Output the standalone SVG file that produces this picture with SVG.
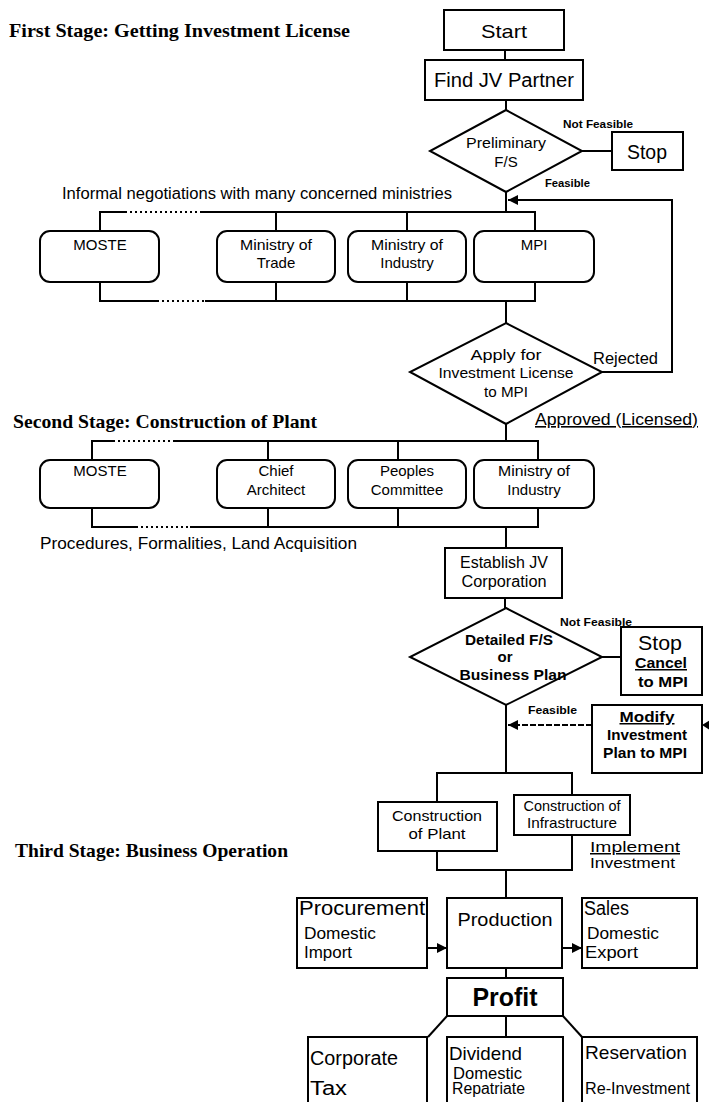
<svg xmlns="http://www.w3.org/2000/svg" width="709" height="1102" viewBox="0 0 709 1102">
<defs>
<style>
.box{fill:#fff;stroke:#000;stroke-width:2}
.ln{fill:none;stroke:#000;stroke-width:2}
.dot{fill:none;stroke:#000;stroke-width:2;stroke-dasharray:2 3}
.dash{fill:none;stroke:#000;stroke-width:2;stroke-dasharray:6 2}
text{font-family:"Liberation Sans",Arial,sans-serif;fill:#000}
.c{text-anchor:middle}
.b{font-weight:bold}
.u{text-decoration:underline}
.title{font-family:"Liberation Serif","Times New Roman",serif;font-weight:bold;font-size:19px}
.f11{font-size:11px}.f15{font-size:15px}.f16{font-size:16px}.f17{font-size:17px}.f19{font-size:19px}.f20{font-size:20px}.f21{font-size:21px}.f25{font-size:25px}
</style>
<marker id="ah" viewBox="0 0 10 10" refX="10" refY="5" markerWidth="5" markerHeight="5" orient="auto"><path d="M0,0 L10,5 L0,10 z" fill="#000"/></marker>
</defs>
<rect width="709" height="1102" fill="#fff"/>

<g id="titles">
<text class="title" x="9" y="37" textLength="341" lengthAdjust="spacingAndGlyphs">First Stage: Getting Investment License</text>
<text class="title" x="13" y="428" textLength="304" lengthAdjust="spacingAndGlyphs">Second Stage: Construction of Plant</text>
<text class="title" x="15" y="857" textLength="273" lengthAdjust="spacingAndGlyphs">Third Stage: Business Operation</text>
</g>

<g id="connectors">
<line class="ln" x1="505" y1="50" x2="505" y2="60"/>
<line class="ln" x1="506" y1="100" x2="506" y2="110"/>
<line class="ln" x1="582" y1="151" x2="612" y2="151"/>
<line class="ln" x1="506" y1="192" x2="506" y2="212"/>
<!-- stage 1 bus -->
<polyline class="ln" points="100,231 100,212 125,212"/>
<line class="dot" x1="125" y1="212" x2="200" y2="212"/>
<polyline class="ln" points="200,212 535,212 535,231"/>
<line class="ln" x1="276" y1="212" x2="276" y2="231"/>
<line class="ln" x1="407" y1="212" x2="407" y2="231"/>
<polyline class="ln" points="100,282 100,301 157,301"/>
<line class="dot" x1="157" y1="301" x2="205" y2="301"/>
<polyline class="ln" points="205,301 535,301 535,282"/>
<line class="ln" x1="276" y1="282" x2="276" y2="301"/>
<line class="ln" x1="407" y1="282" x2="407" y2="301"/>
<line class="ln" x1="506" y1="301" x2="506" y2="323"/>
<!-- rejected loop -->
<polyline class="ln" points="602,372 672,372 672,200 508,200" marker-end="url(#ah)"/>
<line class="ln" x1="506" y1="424" x2="506" y2="441"/>
<!-- stage 2 bus -->
<polyline class="ln" points="92,460 92,441 113,441"/>
<line class="dot" x1="113" y1="441" x2="173" y2="441"/>
<polyline class="ln" points="173,441 538,441 538,460"/>
<line class="ln" x1="268" y1="441" x2="268" y2="460"/>
<line class="ln" x1="398" y1="441" x2="398" y2="460"/>
<polyline class="ln" points="92,508 92,527 136,527"/>
<line class="dot" x1="136" y1="527" x2="190" y2="527"/>
<polyline class="ln" points="190,527 538,527 538,508"/>
<line class="ln" x1="268" y1="508" x2="268" y2="527"/>
<line class="ln" x1="398" y1="508" x2="398" y2="527"/>
<line class="ln" x1="506" y1="527" x2="506" y2="548"/>
<line class="ln" x1="505" y1="598" x2="505" y2="608"/>
<line class="ln" x1="602" y1="657" x2="621" y2="657"/>
<line class="dash" x1="592" y1="725" x2="508" y2="725" marker-end="url(#ah)"/>
<polygon points="702,725 710,720 710,730" fill="#000"/>
<line class="ln" x1="506" y1="705" x2="506" y2="773"/>
<polyline class="ln" points="437,802 437,773 572,773 572,795"/>
<polyline class="ln" points="437,851 437,870 572,870 572,835"/>
<line class="ln" x1="506" y1="870" x2="506" y2="898"/>
<line class="ln" x1="427" y1="948" x2="447" y2="948" marker-end="url(#ah)"/>
<line class="ln" x1="562" y1="948" x2="582" y2="948" marker-end="url(#ah)"/>
<line class="ln" x1="506" y1="968" x2="506" y2="978"/>
<line class="ln" x1="447" y1="1016" x2="428" y2="1037"/>
<line class="ln" x1="563" y1="1016" x2="582" y2="1037"/>
<line class="ln" x1="506" y1="1016" x2="506" y2="1037"/>
</g>

<g id="labels">
<text class="b f11" x="563" y="128" textLength="70" lengthAdjust="spacingAndGlyphs">Not Feasible</text>
<text class="b f11" x="545" y="187" textLength="45" lengthAdjust="spacingAndGlyphs">Feasible</text>
<text class="f16" x="62" y="199" textLength="390" lengthAdjust="spacingAndGlyphs">Informal negotiations with many concerned ministries</text>
<text class="f16" x="593" y="364" textLength="65" lengthAdjust="spacingAndGlyphs">Rejected</text>
<text class="f16 u" x="535" y="425" textLength="163" lengthAdjust="spacingAndGlyphs">Approved (Licensed)</text>
<text class="f17" x="40" y="549" textLength="317" lengthAdjust="spacingAndGlyphs">Procedures, Formalities, Land Acquisition</text>
<text class="b f11" x="560" y="626" textLength="72" lengthAdjust="spacingAndGlyphs">Not Feasible</text>
<text class="b f11" x="528" y="714" textLength="49" lengthAdjust="spacingAndGlyphs">Feasible</text>
<text class="f15 u" x="590" y="852" textLength="90" lengthAdjust="spacingAndGlyphs">Implement</text>
<text class="f15" x="590" y="868" textLength="85" lengthAdjust="spacingAndGlyphs">Investment</text>
</g>

<g id="start"><rect class="box" x="444" y="10" width="120" height="40"/>
<text class="c f19" x="504" y="38" textLength="46" lengthAdjust="spacingAndGlyphs">Start</text></g>
<g id="findjv"><rect class="box" x="425" y="60" width="158" height="40"/>
<text class="c f20" x="504" y="87" textLength="140" lengthAdjust="spacingAndGlyphs">Find JV Partner</text></g>
<g id="prelim"><polygon class="box" points="506,110 582,151 506,192 430,151"/>
<text class="c f15" x="506" y="148" textLength="80" lengthAdjust="spacingAndGlyphs">Preliminary</text>
<text class="c f15" x="506" y="167">F/S</text></g>
<g id="stop1"><rect class="box" x="612" y="132" width="71" height="38"/>
<text class="c f20" x="647" y="159" textLength="40" lengthAdjust="spacingAndGlyphs">Stop</text></g>

<g id="moste1"><rect class="box" x="40" y="231" width="119" height="51" rx="10"/>
<text class="c f15" x="100" y="250">MOSTE</text></g>
<g id="trade"><rect class="box" x="217" y="231" width="118" height="51" rx="10"/>
<text class="c f15" x="276" y="250" textLength="72" lengthAdjust="spacingAndGlyphs">Ministry of</text>
<text class="c f15" x="276" y="268">Trade</text></g>
<g id="industry1"><rect class="box" x="348" y="231" width="118" height="51" rx="10"/>
<text class="c f15" x="407" y="250" textLength="72" lengthAdjust="spacingAndGlyphs">Ministry of</text>
<text class="c f15" x="407" y="268">Industry</text></g>
<g id="mpi"><rect class="box" x="474" y="231" width="120" height="51" rx="10"/>
<text class="c f15" x="534" y="250">MPI</text></g>

<g id="apply"><polygon class="box" points="506,323 602,372 506,424 410,372"/>
<text class="c f15" x="506" y="360" textLength="71" lengthAdjust="spacingAndGlyphs">Apply for</text>
<text class="c f15" x="506" y="378" textLength="135" lengthAdjust="spacingAndGlyphs">Investment License</text>
<text class="c f15" x="506" y="397" textLength="44" lengthAdjust="spacingAndGlyphs">to MPI</text></g>

<g id="moste2"><rect class="box" x="40" y="460" width="119" height="48" rx="10"/>
<text class="c f15" x="100" y="476">MOSTE</text></g>
<g id="architect"><rect class="box" x="217" y="460" width="118" height="48" rx="10"/>
<text class="c f15" x="276" y="476">Chief</text>
<text class="c f15" x="276" y="495">Architect</text></g>
<g id="peoples"><rect class="box" x="348" y="460" width="118" height="48" rx="10"/>
<text class="c f15" x="407" y="476">Peoples</text>
<text class="c f15" x="407" y="495">Committee</text></g>
<g id="industry2"><rect class="box" x="474" y="460" width="120" height="48" rx="10"/>
<text class="c f15" x="534" y="476" textLength="72" lengthAdjust="spacingAndGlyphs">Ministry of</text>
<text class="c f15" x="534" y="495">Industry</text></g>

<g id="establish"><rect class="box" x="445" y="548" width="117" height="50"/>
<text class="c f16" x="504" y="568" textLength="88" lengthAdjust="spacingAndGlyphs">Establish JV</text>
<text class="c f16" x="504" y="587" textLength="85" lengthAdjust="spacingAndGlyphs">Corporation</text></g>
<g id="detailed"><polygon class="box" points="506,608 602,657 506,705 410,657"/>
<text class="c b f15" x="509" y="645" textLength="88" lengthAdjust="spacingAndGlyphs">Detailed F/S</text>
<text class="c b f15" x="505" y="662">or</text>
<text class="c b f15" x="513" y="680" textLength="107" lengthAdjust="spacingAndGlyphs">Business Plan</text></g>
<g id="stop2"><rect class="box" x="621" y="627" width="81" height="68"/>
<text class="c f21" x="660" y="650" textLength="44" lengthAdjust="spacingAndGlyphs">Stop</text>
<text class="c b f15 u" x="661" y="668" textLength="52" lengthAdjust="spacingAndGlyphs">Cancel</text>
<text class="c b f15" x="663" y="687" textLength="50" lengthAdjust="spacingAndGlyphs">to MPI</text></g>
<g id="modify"><rect class="box" x="592" y="705" width="110" height="68"/>
<text class="c b f15 u" x="647" y="722" textLength="55" lengthAdjust="spacingAndGlyphs">Modify</text>
<text class="c b f15" x="647" y="740" textLength="80" lengthAdjust="spacingAndGlyphs">Investment</text>
<text class="c b f15" x="645" y="758" textLength="84" lengthAdjust="spacingAndGlyphs">Plan to MPI</text></g>

<g id="plant"><rect class="box" x="378" y="802" width="119" height="49"/>
<text class="c f15" x="437" y="821" textLength="90" lengthAdjust="spacingAndGlyphs">Construction</text>
<text class="c f15" x="437" y="839" textLength="57" lengthAdjust="spacingAndGlyphs">of Plant</text></g>
<g id="infra"><rect class="box" x="514" y="795" width="116" height="40"/>
<text class="c f15" x="572" y="811" textLength="97" lengthAdjust="spacingAndGlyphs">Construction of</text>
<text class="c f15" x="572" y="828" textLength="90" lengthAdjust="spacingAndGlyphs">Infrastructure</text></g>

<g id="procurement"><rect class="box" x="297" y="898" width="130" height="70"/>
<text class="f21" x="299" y="915" textLength="126" lengthAdjust="spacingAndGlyphs">Procurement</text>
<text class="f16" x="304" y="939" textLength="72" lengthAdjust="spacingAndGlyphs">Domestic</text>
<text class="f16" x="304" y="958" textLength="48" lengthAdjust="spacingAndGlyphs">Import</text></g>
<g id="production"><rect class="box" x="447" y="898" width="115" height="70"/>
<text class="c f19" x="505" y="926" textLength="95" lengthAdjust="spacingAndGlyphs">Production</text></g>
<g id="sales"><rect class="box" x="582" y="898" width="115" height="70"/>
<text class="f20" x="584" y="915" textLength="45" lengthAdjust="spacingAndGlyphs">Sales</text>
<text class="f16" x="587" y="939" textLength="72" lengthAdjust="spacingAndGlyphs">Domestic</text>
<text class="f16" x="585" y="958" textLength="53" lengthAdjust="spacingAndGlyphs">Export</text></g>
<g id="profit"><rect class="box" x="447" y="978" width="116" height="38"/>
<text class="c b f25" x="505" y="1006" textLength="65" lengthAdjust="spacingAndGlyphs">Profit</text></g>
<g id="tax"><rect class="box" x="308" y="1037" width="119" height="80"/>
<text class="f20" x="310" y="1065" textLength="88" lengthAdjust="spacingAndGlyphs">Corporate</text>
<text class="f20" x="310" y="1095" textLength="37" lengthAdjust="spacingAndGlyphs">Tax</text></g>
<g id="dividend"><rect class="box" x="447" y="1037" width="116" height="80"/>
<text class="f19" x="449" y="1060" textLength="73" lengthAdjust="spacingAndGlyphs">Dividend</text>
<text class="f16" x="453" y="1079" textLength="69" lengthAdjust="spacingAndGlyphs">Domestic</text>
<text class="f16" x="452" y="1094" textLength="73" lengthAdjust="spacingAndGlyphs">Repatriate</text></g>
<g id="reservation"><rect class="box" x="582" y="1037" width="115" height="80"/>
<text class="f19" x="585" y="1059" textLength="102" lengthAdjust="spacingAndGlyphs">Reservation</text>
<text class="f16" x="585" y="1094" textLength="105" lengthAdjust="spacingAndGlyphs">Re-Investment</text></g>
</svg>
